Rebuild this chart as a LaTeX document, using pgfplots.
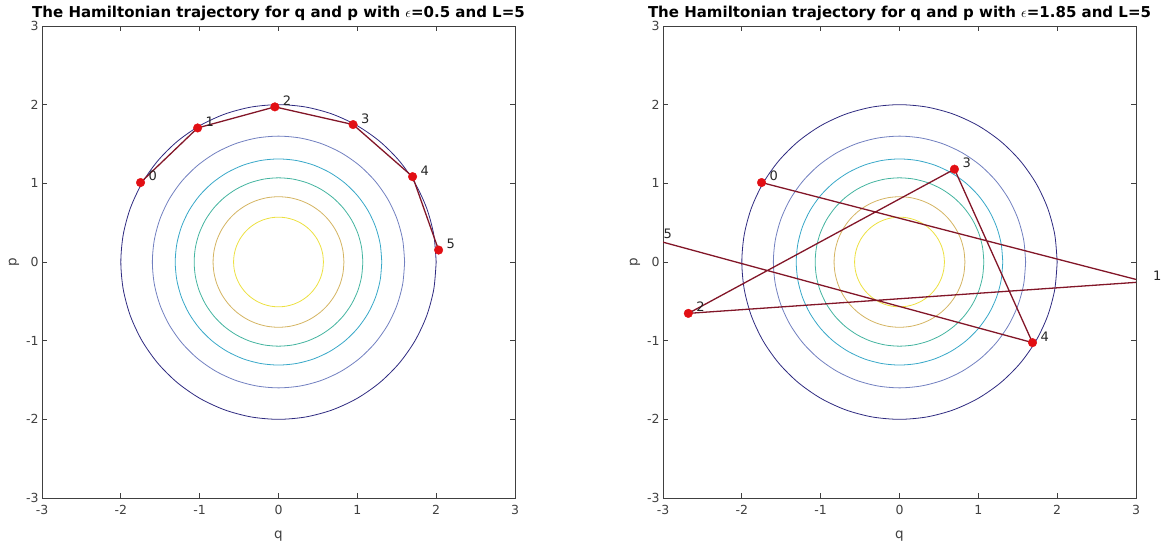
\documentclass[border=0pt]{standalone}
\usepackage{fontspec}
\setmainfont{DejaVu Sans}
\usepackage{pgfplots}
\pgfplotsset{compat=1.18}
\usepackage{pgfplotstable}

\definecolor{c1}{HTML}{2E2A80}
\definecolor{c2}{HTML}{7280C0}
\definecolor{c3}{HTML}{38A8C8}
\definecolor{c4}{HTML}{44B4A0}
\definecolor{c5}{HTML}{D4B462}
\definecolor{c6}{HTML}{ECE040}
\definecolor{traj}{HTML}{821628}
\definecolor{mk}{HTML}{E20F14}
\definecolor{axgray}{HTML}{404040}

% unit circle (cos, sin) every 10 degrees; scaled by contour radius
\pgfplotstableread{
c s
1.0000 0.0000
0.9848 0.1736
0.9397 0.3420
0.8660 0.5000
0.7660 0.6428
0.6428 0.7660
0.5000 0.8660
0.3420 0.9397
0.1736 0.9848
0.0000 1.0000
-0.1736 0.9848
-0.3420 0.9397
-0.5000 0.8660
-0.6428 0.7660
-0.7660 0.6428
-0.8660 0.5000
-0.9397 0.3420
-0.9848 0.1736
-1.0000 0.0000
-0.9848 -0.1736
-0.9397 -0.3420
-0.8660 -0.5000
-0.7660 -0.6428
-0.6428 -0.7660
-0.5000 -0.8660
-0.3420 -0.9397
-0.1736 -0.9848
0.0000 -1.0000
0.1736 -0.9848
0.3420 -0.9397
0.5000 -0.8660
0.6428 -0.7660
0.7660 -0.6428
0.8660 -0.5000
0.9397 -0.3420
0.9848 -0.1736
1.0000 0.0000
}\unitc

\pgfplotstableread{
q p
-1.750 1.010
-1.026 1.704
-0.046 1.972
0.946 1.747
1.701 1.085
2.031 0.152
}\trajA

\pgfplotstableread{
q p
-1.750 1.010
3.113 -0.251
-2.679 -0.653
0.697 1.180
1.687 -1.025
-3.095 0.278
}\trajB

\newcommand{\contours}{%
\addplot[c1, line width=0.8pt, smooth] table[x expr=2.00*\thisrow{c}, y expr=2.00*\thisrow{s}] {\unitc};
\addplot[c2, line width=0.8pt, smooth] table[x expr=1.60*\thisrow{c}, y expr=1.60*\thisrow{s}] {\unitc};
\addplot[c3, line width=0.8pt, smooth] table[x expr=1.31*\thisrow{c}, y expr=1.31*\thisrow{s}] {\unitc};
\addplot[c4, line width=0.8pt, smooth] table[x expr=1.07*\thisrow{c}, y expr=1.07*\thisrow{s}] {\unitc};
\addplot[c5, line width=0.8pt, smooth] table[x expr=0.83*\thisrow{c}, y expr=0.83*\thisrow{s}] {\unitc};
\addplot[c6, line width=0.8pt, smooth] table[x expr=0.57*\thisrow{c}, y expr=0.57*\thisrow{s}] {\unitc};
}

\pgfplotsset{myax/.style={
  scale only axis, height=472pt, width=473pt,
  anchor=south west,
  xmin=-3, xmax=3, ymin=-3, ymax=3,
  xtick={-3,-2,-1,0,1,2,3}, ytick={-3,-2,-1,0,1,2,3},
  xticklabels={-3,-2,-1,0,1,2,3}, yticklabels={-3,-2,-1,0,1,2,3},
  tick align=inside, major tick length=5pt,
  axis line style={axgray, line width=0.7pt},
  tick style={axgray, line width=0.7pt},
  ticklabel style={font=\fontsize{12.5}{14}\selectfont, text=axgray},
  xticklabel style={yshift=-4pt},
  xlabel={q}, ylabel={p},
  xlabel style={yshift=-9pt},
  label style={font=\fontsize{13.5}{15}\selectfont, text=axgray},
  title style={font=\bfseries\fontsize{15}{18}\selectfont, yshift=-4pt},
  clip mode=individual, clip marker paths=true,
}}

\tikzset{lab/.style={anchor=west, inner sep=0pt, font=\fontsize{13}{14}\selectfont, text=black!85}}

\begin{document}
\begin{tikzpicture}
\useasboundingbox (0,0) rectangle (1167pt,543pt);
\begin{axis}[myax, at={(42pt,45pt)},
  title={The Hamiltonian trajectory for q and p with {\mdseries$\epsilon$}=0.5 and L=5}]
\contours
\addplot[traj, line width=1.3pt] table[x=q, y=p] {\trajA};
\addplot[only marks, mark=*, mark size=4.3pt, mark options={fill=mk, draw=mk}] table[x=q, y=p] {\trajA};
\node[lab] at (axis cs:-1.650,1.090) {0};
\node[lab] at (axis cs:-0.926,1.784) {1};
\node[lab] at (axis cs:0.054,2.052) {2};
\node[lab] at (axis cs:1.046,1.827) {3};
\node[lab] at (axis cs:1.801,1.165) {4};
\node[lab] at (axis cs:2.131,0.232) {5};
\end{axis}
\begin{axis}[myax, at={(663pt,45pt)},
  title={The Hamiltonian trajectory for q and p with {\mdseries$\epsilon$}=1.85 and L=5}]
\contours
\addplot[traj, line width=1.3pt] table[x=q, y=p] {\trajB};
\addplot[only marks, mark=*, mark size=4.3pt, mark options={fill=mk, draw=mk}] table[x=q, y=p] {\trajB};
\node[lab] at (axis cs:-1.650,1.090) {0};
\node[lab] at (axis cs:3.213,-0.171) {1};
\node[lab] at (axis cs:-2.579,-0.573) {2};
\node[lab] at (axis cs:0.797,1.260) {3};
\node[lab] at (axis cs:1.787,-0.945) {4};
\node[lab] at (axis cs:-2.995,0.358) {5};
\end{axis}
\end{tikzpicture}
\end{document}
